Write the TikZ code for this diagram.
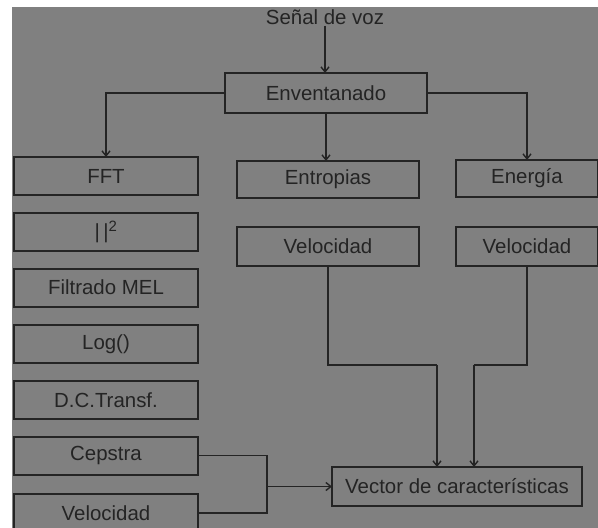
\documentclass[tikz,border=0pt]{standalone}
\usepackage{fontspec}
\setmainfont{Liberation Sans}
\usetikzlibrary{arrows.meta}
\definecolor{bggray}{RGB}{128,128,128}
\definecolor{ink}{RGB}{36,36,36}
\tikzset{
  lbl/.style={text=ink, font=\fontsize{20.5}{23}\selectfont},
  box/.style={lbl, draw=ink, line width=2bp, inner sep=0pt, outer sep=0pt, anchor=center},
  conn/.style={draw=ink, line width=1.4bp},
  arr/.style={conn, -{Straight Barb[length=5bp,width=8bp]}},
}
\begin{document}
\begin{tikzpicture}[x=1bp,y=-1bp]
\useasboundingbox (0,0) rectangle (598,528);
\clip (0,0) rectangle (598,528);
\fill[white] (0,0) rectangle (598,528);
\fill[bggray] (12,7) rectangle (598,528);

\node[lbl, inner sep=1pt] (sig) at (325,17) {Señal de voz};
\node[box, minimum width=202bp, minimum height=40bp] (env) at (326,93) {Enventanado};

% left column
\node[box, minimum width=184bp, minimum height=38bp] (fft)  at (106,176)   {FFT};
\node[box, minimum width=184bp, minimum height=38bp] (sq)   at (106,232)   {|\,|\textsuperscript{\fontsize{15}{15}\selectfont 2}};
\node[box, minimum width=184bp, minimum height=38bp] (mel)  at (106,287.5) {Filtrado MEL};
\node[box, minimum width=184bp, minimum height=38bp] (log)  at (106,344)   {Log()};
\node[box, minimum width=184bp, minimum height=38bp] (dct)  at (106,400)   {D.C.Transf.};
\node[box, minimum width=184bp, minimum height=38bp] (cep)  at (106,455.5) {Cepstra};
\node[box, minimum width=184bp, minimum height=38bp] (vel1) at (106,513)   {Velocidad};

% middle column
\node[box, minimum width=182bp, minimum height=37bp] (ent)  at (328,179.5) {Entropias};
\node[box, minimum width=182bp, minimum height=39bp] (vel2) at (328,246.5) {Velocidad};

% right column
\node[box, minimum width=142bp, minimum height=37bp] (ene)  at (527,178.5) {Energía};
\node[box, minimum width=142bp, minimum height=39bp] (vel3) at (527,246.5) {Velocidad};

\node[box, minimum width=250bp, minimum height=39bp] (vec)  at (457,486.5) {Vector de características};

\coordinate (j1) at (0,365);
\coordinate (jx) at (267,0);
\coordinate (vin1) at (437,0);
\coordinate (vin2) at (474,0);

\draw[arr] (sig.south) -- (sig.south |- env.north);
\draw[arr] (env.west) -| (fft.north);
\draw[arr] (env.south) -- (env.south |- ent.north);
\draw[arr] (env.east) -| (ene.north);

\draw[conn] (vel2.south) -- (vel2.south |- j1) -- (vin1 |- j1);
\draw[arr] (vin1 |- j1) -- (vin1 |- vec.north);
\draw[conn] (vel3.south) -- (vel3.south |- j1) -- (vin2 |- j1);
\draw[arr] (vin2 |- j1) -- (vin2 |- vec.north);

\draw[conn] (cep.east) -- (jx |- cep.east) -- (jx |- vel1.east) -- (vel1.east);
\draw[arr] (jx |- vec.west) -- (vec.west);
\end{tikzpicture}
\end{document}
